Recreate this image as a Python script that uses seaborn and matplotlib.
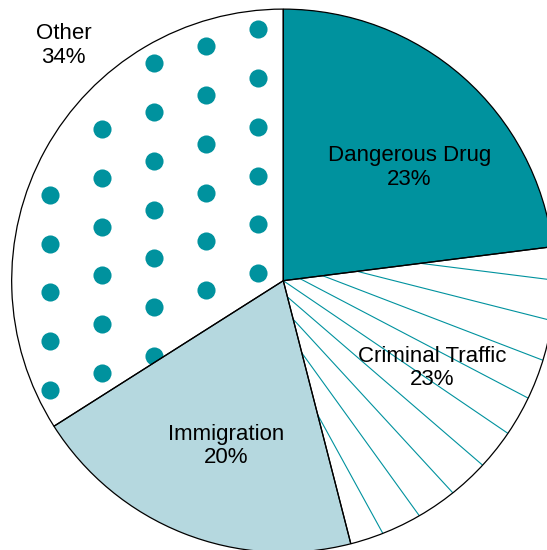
import numpy as np
import matplotlib
matplotlib.use("Agg")
import matplotlib.pyplot as plt
import seaborn as sns

# case shares by offence type
categories = ["Dangerous Drug", "Criminal Traffic", "Immigration", "Other"]
shares = [23, 23, 20, 34]

teal = "#00929e"
light_blue = "#b5d8df"
face_colors = [teal, "white", light_blue, "white"]

sns.set_style("white")
plt.rcParams["font.family"] = ["Liberation Sans", "DejaVu Sans"]

fig = plt.figure(figsize=(5.47, 5.50), dpi=100)
ax = fig.add_axes([0, 0, 1, 1])

# filled wedges first, outlines drawn on top later
wedges, _ = ax.pie(shares, colors=face_colors, startangle=90, counterclock=False,
                   radius=1, wedgeprops=dict(linewidth=0))

# fan of lines for the criminal traffic wedge
w = wedges[1]
mid = np.deg2rad((w.theta1 + w.theta2) / 2)
half = np.deg2rad((w.theta2 - w.theta1) / 2)
perp = np.array([np.cos(mid + np.pi / 2), np.sin(mid + np.pi / 2)])
for d in np.linspace(-0.82, 0.82, 9) * half:
    start = 0.24 * d * perp
    end = 1.05 * np.array([np.cos(mid + d), np.sin(mid + d)])
    ax.plot([start[0], end[0]], [start[1], end[1]], color=teal, lw=0.8,
            clip_path=w, zorder=2)

# dot texture for the "other" wedge, only whole dots inside the rim
ii, jj = np.meshgrid(np.arange(-1, 12), np.arange(0, 6))
dot_x = -0.093 - 0.1915 * jj.ravel()
dot_y = 0.927 - 0.180 * ii.ravel() - 0.0626 * jj.ravel()
inside = np.hypot(dot_x, dot_y) < 0.955
ax.scatter(dot_x[inside], dot_y[inside], s=170, color=teal, linewidths=0,
           clip_path=wedges[3], zorder=2)

# outlines
ax.pie(shares, colors=["none"] * len(shares), startangle=90, counterclock=False,
       radius=1, wedgeprops=dict(edgecolor="black", linewidth=0.9, zorder=3))

label_r = [0.625, 0.635, 0.645, 1.185]
label_nudge = [-6.7, 3.9, 2.4, -18.2]
for w, name, pct, r, nudge in zip(wedges, categories, shares, label_r, label_nudge):
    ang = np.deg2rad((w.theta1 + w.theta2) / 2 + nudge)
    ax.text(r * np.cos(ang), r * np.sin(ang), f"{name}\n{pct}%", ha="center", va="center",
            fontsize=16, linespacing=1.15, color="black", zorder=4)

ax.set_xlim(-1.043, 0.971)
ax.set_ylim(-0.9915, 1.0335)
ax.set_aspect("equal")
ax.axis("off")

fig.savefig("out.png", dpi=100)
